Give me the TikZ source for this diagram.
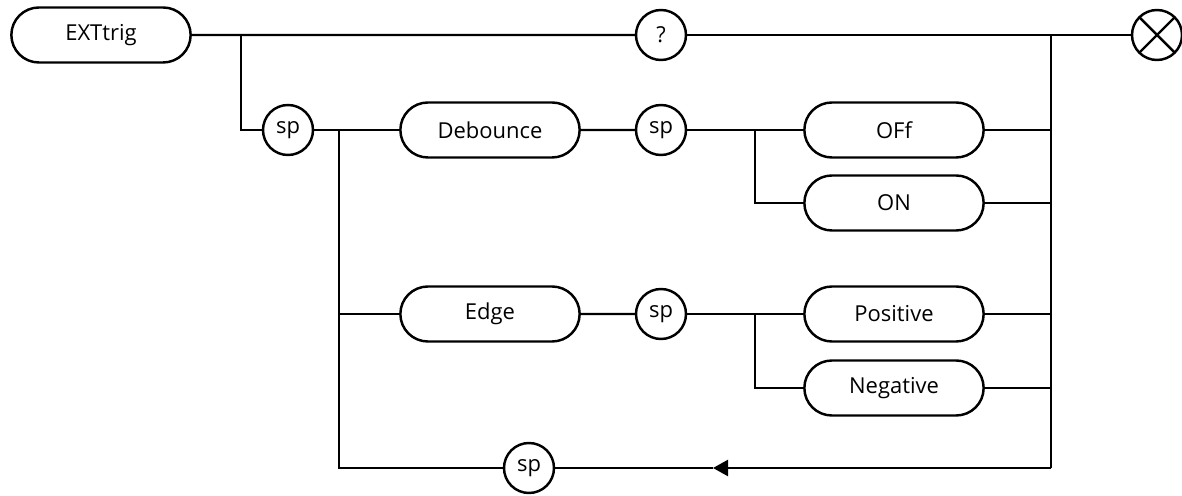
\documentclass[tikz,border=0pt]{standalone}
\usepackage{fontspec}
\setmainfont{Open Sans}
\usetikzlibrary{shapes.misc, arrows.meta}

\begin{document}
\begin{tikzpicture}[
    line width=1.4pt,
    kw/.style={draw, rounded rectangle, minimum width=3.82cm, minimum height=1.1cm,
               font=\fontsize{12.5}{14}\selectfont},
    sep/.style={draw, circle, minimum size=1.0cm, inner sep=0pt,
                font=\fontsize{12.5}{14}\selectfont},
    stopsign/.style={draw, circle, minimum size=1.0cm, inner sep=0pt,
                path picture={\draw (path picture bounding box.north west) -- (path picture bounding box.south east)
                                    (path picture bounding box.north east) -- (path picture bounding box.south west);}},
    back/.style={-{Triangle[length=0.3cm, width=0.32cm]}}
]
\useasboundingbox (0,0) rectangle (23.64,9.9);

% header
\node[kw] (ext) at (2.02, 9.2) {EXTtrig};
\node[sep] (q) at (13.22, 9.2) {?};
\node[stopsign] (stop) at (23.14, 9.2) {};

% Debounce branch
\node[sep] (sp1) at (5.76, 7.3) {sp};
\node[kw] (deb) at (9.8, 7.3) {Debounce};
\node[sep] (sp2) at (13.22, 7.3) {sp};
\node[kw] (off) at (17.88, 7.3) {OFf};
\node[kw] (on) at (17.88, 5.84) {ON};

% Edge branch
\node[kw] (edge) at (9.8, 3.62) {Edge};
\node[sep] (sp3) at (13.22, 3.62) {sp};
\node[kw] (pos) at (17.88, 3.62) {Positive};
\node[kw] (neg) at (17.88, 2.14) {Negative};

% loop back
\node[sep] (sp4) at (10.58, 0.54) {sp};

% junctions
\coordinate (j1) at (4.82, 9.2);
\coordinate (j2) at (6.78, 7.3);
\coordinate (j4) at (15.1, 7.3);
\coordinate (j5) at (15.1, 3.62);
\coordinate (rt) at (21.02, 9.2);
\coordinate (rb) at (21.02, 0.54);
\coordinate (tip) at (14.26, 0.54);

% Lines
\draw (ext) -- (q);
\draw (q) -- (stop);
\draw (j1) |- (sp1);
\draw (sp1) -- (deb);
\draw (j2) |- (edge);
\draw (j2) |- (sp4);
\draw (deb) -- (sp2);
\draw (sp2) -- (off);
\draw (j4) |- (on);
\draw (edge) -- (sp3);
\draw (sp3) -- (pos);
\draw (j5) |- (neg);
\draw (rt) -- (rb);
\draw (off.east) -- (off.east -| rt);
\draw (on.east) -- (on.east -| rt);
\draw (pos.east) -- (pos.east -| rt);
\draw (neg.east) -- (neg.east -| rt);
\draw[back] (rb) -- (tip);
\draw (tip) -- (sp4);
\end{tikzpicture}
\end{document}
